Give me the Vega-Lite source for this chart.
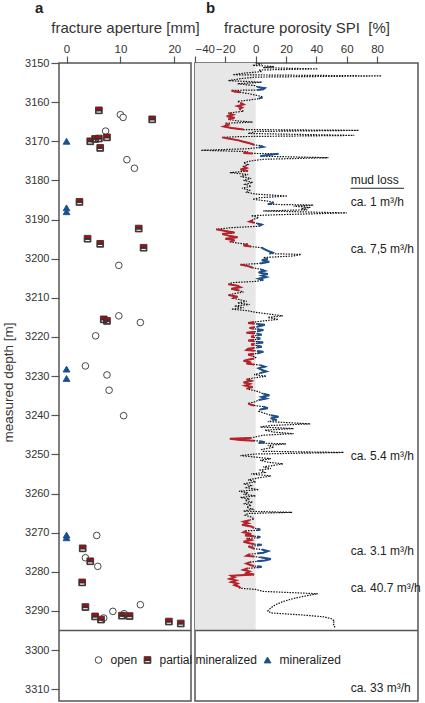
{
"$schema":"https://vega.github.io/schema/vega-lite/v6.json",
"padding":{"left":0,"top":0,"right":7,"bottom":3},
"spacing":4,
"bounds":"flush",
"config":{
 "font":"Liberation Sans",
 "view":{"stroke":"#555555","strokeWidth":1.5},
 "axis":{"grid":false,"domain":false,"labelOverlap":false,"tickCount":30,"labelFont":"Liberation Sans","labelFontSize":11.5,"labelColor":"#333333","titleFont":"Liberation Sans","titleFontSize":15,"titleFontWeight":"normal","titleColor":"#333333","tickColor":"#555555","tickSize":7,"tickWidth":1.2,"labelPadding":2,"titlePadding":8},
 "title":{"font":"Liberation Sans","fontSize":15,"fontWeight":"bold","color":"#222222","anchor":"start","frame":"group"}
},
"datasets":{
"frac":[
{"a":10.0,"d":3163.2,"type":"open"},{"a":10.5,"d":3163.9,"type":"open"},{"a":7.25,"d":3167.4,"type":"open"},{"a":11.2,"d":3174.7,"type":"open"},{"a":12.6,"d":3176.9,"type":"open"},{"a":9.7,"d":3201.7,"type":"open"},{"a":9.7,"d":3214.6,"type":"open"},{"a":13.7,"d":3216.3,"type":"open"},{"a":5.4,"d":3219.7,"type":"open"},{"a":3.5,"d":3227.4,"type":"open"},{"a":7.5,"d":3229.7,"type":"open"},{"a":7.9,"d":3233.6,"type":"open"},{"a":10.6,"d":3240.1,"type":"open"},{"a":5.6,"d":3270.7,"type":"open"},{"a":3.5,"d":3276.4,"type":"open"},{"a":5.8,"d":3278.6,"type":"open"},{"a":8.6,"d":3290.1,"type":"open"},{"a":10.7,"d":3290.7,"type":"open"},{"a":13.7,"d":3288.4,"type":"open"},{"a":6.9,"d":3291.8,"type":"open"},
{"a":6.0,"d":3162.1,"type":"partial mineralized"},{"a":15.9,"d":3164.4,"type":"partial mineralized"},{"a":4.4,"d":3170.0,"type":"partial mineralized"},{"a":5.3,"d":3169.4,"type":"partial mineralized"},{"a":6.0,"d":3169.3,"type":"partial mineralized"},{"a":7.5,"d":3169.0,"type":"partial mineralized"},{"a":6.25,"d":3171.7,"type":"partial mineralized"},{"a":2.4,"d":3185.5,"type":"partial mineralized"},{"a":13.4,"d":3192.3,"type":"partial mineralized"},{"a":3.9,"d":3194.9,"type":"partial mineralized"},{"a":6.25,"d":3196.2,"type":"partial mineralized"},{"a":14.3,"d":3197.2,"type":"partial mineralized"},{"a":6.9,"d":3215.5,"type":"partial mineralized"},{"a":7.5,"d":3215.9,"type":"partial mineralized"},{"a":3.0,"d":3274.0,"type":"partial mineralized"},{"a":4.4,"d":3277.3,"type":"partial mineralized"},{"a":2.9,"d":3282.7,"type":"partial mineralized"},{"a":3.5,"d":3289.0,"type":"partial mineralized"},{"a":5.3,"d":3291.4,"type":"partial mineralized"},{"a":6.4,"d":3292.2,"type":"partial mineralized"},{"a":10.3,"d":3291.2,"type":"partial mineralized"},{"a":11.7,"d":3291.3,"type":"partial mineralized"},{"a":19.0,"d":3292.7,"type":"partial mineralized"},{"a":21.2,"d":3293.2,"type":"partial mineralized"},
{"a":0,"d":3170.0,"type":"mineralized"},{"a":0,"d":3187.0,"type":"mineralized"},{"a":0,"d":3188.0,"type":"mineralized"},{"a":0,"d":3228.2,"type":"mineralized"},{"a":0,"d":3230.6,"type":"mineralized"},{"a":0,"d":3270.6,"type":"mineralized"},{"a":0,"d":3271.3,"type":"mineralized"}
],
"spi":[
{"d":3150.0,"v":0},{"d":3150.3,"v":4},{"d":3150.6,"v":-2},{"d":3150.9,"v":12},{"d":3151.2,"v":5},{"d":3151.5,"v":41},{"d":3151.8,"v":2},{"d":3152.2,"v":4},{"d":3152.6,"v":-8},{"d":3153.0,"v":-15},{"d":3153.3,"v":83},{"d":3153.6,"v":0},{"d":3154.0,"v":-10},{"d":3154.5,"v":-18},{"d":3154.9,"v":4},{"d":3155.3,"v":-12},{"d":3155.8,"v":0},
{"d":3156.1,"v":1,"c":"b","s":1},{"d":3156.4,"v":6,"c":"b","s":1},{"d":3156.7,"v":5,"c":"b","s":1},{"d":3156.9,"v":1,"c":"b","s":1},
{"d":3157.0,"v":-16,"c":"r","s":2},{"d":3157.3,"v":-14,"c":"r","s":2},{"d":3157.5,"v":-10,"c":"r","s":2},
{"d":3157.8,"v":-5},{"d":3158.2,"v":0},
{"d":3158.6,"v":4,"c":"b","s":3},{"d":3158.9,"v":4,"c":"b","s":3},{"d":3159.1,"v":2,"c":"b","s":3},
{"d":3159.5,"v":-5},{"d":3159.8,"v":-12},
{"d":3160.2,"v":-10,"c":"r","s":4},{"d":3160.6,"v":-8,"c":"r","s":4},{"d":3161.0,"v":-12,"c":"r","s":4},{"d":3161.4,"v":-9,"c":"r","s":4},{"d":3161.8,"v":-11,"c":"r","s":4},
{"d":3162.3,"v":-8},
{"d":3162.8,"v":-18,"c":"r","s":5},{"d":3163.2,"v":-15,"c":"r","s":5},{"d":3163.6,"v":-19,"c":"r","s":5},{"d":3164.0,"v":-14,"c":"r","s":5},{"d":3164.4,"v":-18,"c":"r","s":5},
{"d":3164.8,"v":-12},{"d":3165.1,"v":-2},
{"d":3165.4,"v":-20,"c":"r","s":6},{"d":3165.8,"v":-18,"c":"r","s":6},{"d":3166.2,"v":-21,"c":"r","s":6},{"d":3166.6,"v":-16,"c":"r","s":6},{"d":3167.0,"v":-8,"c":"r","s":6},
{"d":3167.2,"v":68},{"d":3167.5,"v":0},{"d":3168.0,"v":-5},{"d":3168.5,"v":65},{"d":3168.8,"v":-10},
{"d":3169.0,"v":-22,"c":"r","s":7},{"d":3169.3,"v":-18,"c":"r","s":7},{"d":3169.7,"v":-12,"c":"r","s":7},{"d":3170.1,"v":-8,"c":"r","s":7},{"d":3170.5,"v":-4,"c":"r","s":7},{"d":3170.9,"v":-1,"c":"r","s":7},
{"d":3171.1,"v":3,"c":"b","s":8},{"d":3171.4,"v":5,"c":"b","s":8},{"d":3171.6,"v":2,"c":"b","s":8},
{"d":3171.9,"v":-5},{"d":3172.3,"v":-36},{"d":3172.6,"v":-8},
{"d":3172.8,"v":-5,"c":"r","s":9},{"d":3173.0,"v":-8,"c":"r","s":9},{"d":3173.1,"v":-2,"c":"r","s":9},
{"d":3173.2,"v":15,"c":"b","s":10},{"d":3173.5,"v":8,"c":"b","s":10},{"d":3173.8,"v":3,"c":"b","s":10},
{"d":3174.2,"v":48},{"d":3174.6,"v":5},{"d":3175.0,"v":-3},{"d":3175.5,"v":-8},{"d":3176.0,"v":-5},
{"d":3176.4,"v":-8,"c":"r","s":11},{"d":3176.8,"v":-6,"c":"r","s":11},{"d":3177.2,"v":-10,"c":"r","s":11},{"d":3177.6,"v":-5,"c":"r","s":11},
{"d":3178.0,"v":-17},{"d":3178.5,"v":-5},{"d":3179.0,"v":-10},{"d":3179.5,"v":-3},{"d":3180.0,"v":-8},{"d":3180.5,"v":-2},{"d":3181.0,"v":-7},{"d":3181.5,"v":-3},{"d":3182.0,"v":-9},{"d":3182.5,"v":-4},{"d":3183.0,"v":-6},{"d":3183.5,"v":0},{"d":3184.0,"v":21},{"d":3184.4,"v":3},{"d":3184.8,"v":-2},{"d":3185.3,"v":8},
{"d":3185.6,"v":12,"c":"b","s":12},{"d":3185.9,"v":10,"c":"b","s":12},{"d":3186.1,"v":8,"c":"b","s":12},
{"d":3186.3,"v":38},{"d":3186.6,"v":25},{"d":3186.9,"v":36},{"d":3187.2,"v":30},{"d":3187.5,"v":34},{"d":3187.8,"v":5},{"d":3188.3,"v":60},{"d":3188.7,"v":20},{"d":3189.0,"v":-3},{"d":3189.5,"v":2},{"d":3190.0,"v":-2},
{"d":3190.2,"v":-2,"c":"r","s":13},{"d":3190.5,"v":-4,"c":"r","s":13},{"d":3190.8,"v":-1,"c":"r","s":13},
{"d":3191.0,"v":1,"c":"b","s":14},{"d":3191.3,"v":4,"c":"b","s":14},{"d":3191.7,"v":2,"c":"b","s":14},
{"d":3192.1,"v":-17},
{"d":3192.5,"v":-26,"c":"r","s":15},{"d":3192.9,"v":-20,"c":"r","s":15},{"d":3193.3,"v":-14,"c":"r","s":15},{"d":3193.7,"v":-22,"c":"r","s":15},{"d":3194.1,"v":-18,"c":"r","s":15},{"d":3194.5,"v":-12,"c":"r","s":15},{"d":3194.9,"v":-20,"c":"r","s":15},{"d":3195.3,"v":-14,"c":"r","s":15},{"d":3195.7,"v":-17,"c":"r","s":15},
{"d":3196.0,"v":-12},
{"d":3196.3,"v":-5,"c":"r","s":16},{"d":3196.6,"v":-8,"c":"r","s":16},{"d":3196.9,"v":-3,"c":"r","s":16},
{"d":3197.2,"v":4,"c":"b","s":17},{"d":3197.6,"v":6,"c":"b","s":17},{"d":3198.0,"v":8,"c":"b","s":17},{"d":3198.4,"v":11,"c":"b","s":17},{"d":3198.7,"v":9,"c":"b","s":17},
{"d":3198.9,"v":30},{"d":3199.3,"v":25},{"d":3199.7,"v":5},
{"d":3200.0,"v":8,"c":"b","s":18},{"d":3200.4,"v":4,"c":"b","s":18},{"d":3200.8,"v":9,"c":"b","s":18},{"d":3201.2,"v":3,"c":"b","s":18},
{"d":3201.5,"v":-10,"c":"r","s":19},{"d":3201.9,"v":-5,"c":"r","s":19},{"d":3202.3,"v":-2,"c":"r","s":19},
{"d":3202.7,"v":3,"c":"b","s":20},{"d":3203.1,"v":6,"c":"b","s":20},{"d":3203.5,"v":2,"c":"b","s":20},{"d":3203.9,"v":8,"c":"b","s":20},{"d":3204.3,"v":4,"c":"b","s":20},{"d":3204.7,"v":7,"c":"b","s":20},{"d":3205.1,"v":2,"c":"b","s":20},{"d":3205.5,"v":5,"c":"b","s":20},
{"d":3205.8,"v":0},{"d":3206.1,"v":-15},
{"d":3206.5,"v":-18,"c":"r","s":21},{"d":3206.9,"v":-12,"c":"r","s":21},{"d":3207.3,"v":-10,"c":"r","s":21},{"d":3207.7,"v":-16,"c":"r","s":21},{"d":3208.1,"v":-11,"c":"r","s":21},
{"d":3208.5,"v":-8},{"d":3208.9,"v":-14},
{"d":3209.3,"v":-18,"c":"r","s":22},{"d":3209.7,"v":-12,"c":"r","s":22},{"d":3210.1,"v":-15,"c":"r","s":22},
{"d":3210.5,"v":-10},{"d":3210.9,"v":-6},{"d":3211.3,"v":-12},{"d":3211.7,"v":-4},{"d":3212.1,"v":-14},{"d":3212.5,"v":-8},{"d":3212.9,"v":-16},{"d":3213.3,"v":-5},{"d":3213.7,"v":0},{"d":3214.2,"v":10},{"d":3214.6,"v":18},{"d":3215.0,"v":8},{"d":3215.5,"v":15},{"d":3215.9,"v":5},
{"d":3216.2,"v":-1,"c":"r","s":23},{"d":3216.4,"v":-5,"c":"r","s":23},{"d":3216.6,"v":-1,"c":"r","s":23},
{"d":3216.7,"v":1,"c":"b","s":24},{"d":3216.9,"v":6,"c":"b","s":24},{"d":3217.2,"v":3,"c":"b","s":24},{"d":3217.4,"v":1,"c":"b","s":24},
{"d":3217.5,"v":-1,"c":"r","s":25},{"d":3217.7,"v":-4,"c":"r","s":25},{"d":3217.9,"v":-1,"c":"r","s":25},
{"d":3218.0,"v":1,"c":"b","s":26},{"d":3218.2,"v":5,"c":"b","s":26},{"d":3218.5,"v":2,"c":"b","s":26},{"d":3218.6,"v":1,"c":"b","s":26},
{"d":3218.7,"v":-1,"c":"r","s":27},{"d":3218.9,"v":-6,"c":"r","s":27},{"d":3219.1,"v":-1,"c":"r","s":27},
{"d":3219.2,"v":1,"c":"b","s":28},{"d":3219.4,"v":4,"c":"b","s":28},{"d":3219.6,"v":1,"c":"b","s":28},
{"d":3219.7,"v":-1,"c":"r","s":29},{"d":3219.9,"v":-3,"c":"r","s":29},{"d":3220.1,"v":-1,"c":"r","s":29},
{"d":3220.2,"v":1,"c":"b","s":30},{"d":3220.4,"v":3,"c":"b","s":30},{"d":3220.6,"v":1,"c":"b","s":30},
{"d":3220.7,"v":-1,"c":"r","s":31},{"d":3220.9,"v":-5,"c":"r","s":31},{"d":3221.1,"v":-1,"c":"r","s":31},
{"d":3221.2,"v":1,"c":"b","s":32},{"d":3221.4,"v":5,"c":"b","s":32},{"d":3221.6,"v":1,"c":"b","s":32},
{"d":3221.7,"v":-1,"c":"r","s":33},{"d":3221.9,"v":-3,"c":"r","s":33},{"d":3222.1,"v":-1,"c":"r","s":33},
{"d":3222.2,"v":1,"c":"b","s":34},{"d":3222.5,"v":4,"c":"b","s":34},{"d":3222.7,"v":1,"c":"b","s":34},
{"d":3222.8,"v":-1,"c":"r","s":35},{"d":3223.0,"v":-5,"c":"r","s":35},{"d":3223.3,"v":-6,"c":"r","s":35},{"d":3223.5,"v":-1,"c":"r","s":35},
{"d":3223.6,"v":1,"c":"b","s":36},{"d":3223.8,"v":5,"c":"b","s":36},{"d":3224.0,"v":3,"c":"b","s":36},{"d":3224.2,"v":1,"c":"b","s":36},
{"d":3224.3,"v":-1,"c":"r","s":37},{"d":3224.5,"v":-5,"c":"r","s":37},{"d":3224.8,"v":-2,"c":"r","s":37},
{"d":3225.2,"v":0},
{"d":3225.5,"v":-1,"c":"r","s":38},{"d":3225.8,"v":-5,"c":"r","s":38},{"d":3226.1,"v":-8,"c":"r","s":38},{"d":3226.5,"v":-3,"c":"r","s":38},{"d":3226.8,"v":-6,"c":"r","s":38},{"d":3227.0,"v":-1,"c":"r","s":38},
{"d":3227.2,"v":3,"c":"b","s":39},{"d":3227.6,"v":6,"c":"b","s":39},{"d":3228.0,"v":2,"c":"b","s":39},{"d":3228.4,"v":4,"c":"b","s":39},{"d":3228.8,"v":7,"c":"b","s":39},{"d":3229.2,"v":3,"c":"b","s":39},
{"d":3229.6,"v":-1},{"d":3230.0,"v":7},{"d":3230.4,"v":0},
{"d":3230.8,"v":-6,"c":"r","s":40},{"d":3231.2,"v":-3,"c":"r","s":40},{"d":3231.6,"v":-8,"c":"r","s":40},{"d":3232.0,"v":-4,"c":"r","s":40},{"d":3232.4,"v":-7,"c":"r","s":40},{"d":3232.8,"v":-2,"c":"r","s":40},{"d":3233.2,"v":-6,"c":"r","s":40},
{"d":3233.6,"v":-2},{"d":3234.0,"v":2},
{"d":3234.5,"v":5,"c":"b","s":41},{"d":3234.9,"v":9,"c":"b","s":41},{"d":3235.3,"v":4,"c":"b","s":41},{"d":3235.7,"v":7,"c":"b","s":41},{"d":3236.1,"v":2,"c":"b","s":41},
{"d":3236.5,"v":0},
{"d":3237.0,"v":-5,"c":"r","s":42},{"d":3237.3,"v":-3,"c":"r","s":42},{"d":3237.5,"v":-1,"c":"r","s":42},
{"d":3237.8,"v":5,"c":"b","s":43},{"d":3238.2,"v":8,"c":"b","s":43},{"d":3238.5,"v":3,"c":"b","s":43},
{"d":3239.0,"v":2},{"d":3239.5,"v":6},
{"d":3240.0,"v":10,"c":"b","s":44},{"d":3240.4,"v":15,"c":"b","s":44},{"d":3240.8,"v":10,"c":"b","s":44},{"d":3241.2,"v":14,"c":"b","s":44},
{"d":3241.6,"v":8},{"d":3242.2,"v":36},{"d":3242.6,"v":10},{"d":3243.0,"v":3},{"d":3243.4,"v":25},{"d":3243.8,"v":6},{"d":3244.3,"v":12},{"d":3244.7,"v":25},{"d":3245.1,"v":5},{"d":3245.5,"v":0},
{"d":3245.8,"v":-3,"c":"r","s":45},{"d":3246.0,"v":-17,"c":"r","s":45},{"d":3246.3,"v":-10,"c":"r","s":45},{"d":3246.5,"v":-1,"c":"r","s":45},
{"d":3246.6,"v":3,"c":"b","s":46},{"d":3246.9,"v":6,"c":"b","s":46},{"d":3247.1,"v":2,"c":"b","s":46},
{"d":3247.3,"v":20},{"d":3247.7,"v":8},{"d":3248.2,"v":12},{"d":3248.7,"v":4},{"d":3249.2,"v":5},{"d":3249.5,"v":58},{"d":3249.9,"v":0},{"d":3250.3,"v":-10},{"d":3250.7,"v":0},{"d":3251.1,"v":10},{"d":3251.5,"v":3},{"d":3252.0,"v":8},{"d":3252.4,"v":18},{"d":3252.8,"v":12},{"d":3253.2,"v":5},{"d":3253.6,"v":10},{"d":3254.0,"v":3},{"d":3254.6,"v":6},{"d":3255.0,"v":-3},{"d":3255.5,"v":10},{"d":3256.0,"v":2},{"d":3256.5,"v":-5},{"d":3257.0,"v":0},{"d":3257.5,"v":-8},{"d":3258.0,"v":-3},{"d":3258.5,"v":-6},{"d":3259.0,"v":2},{"d":3259.4,"v":-11},{"d":3259.8,"v":-5},{"d":3260.2,"v":-8},{"d":3260.6,"v":0},{"d":3261.0,"v":-10},{"d":3261.4,"v":-4},{"d":3261.8,"v":-7},{"d":3262.2,"v":-2},{"d":3262.6,"v":-8},{"d":3263.0,"v":-3},{"d":3263.5,"v":-6},{"d":3264.0,"v":-2},{"d":3264.5,"v":-8},{"d":3264.8,"v":24},{"d":3265.1,"v":-5},{"d":3265.5,"v":-7},{"d":3266.0,"v":-3},{"d":3266.5,"v":-1},
{"d":3266.8,"v":-4,"c":"r","s":47},{"d":3267.2,"v":-8,"c":"r","s":47},{"d":3267.6,"v":-5,"c":"r","s":47},{"d":3268.0,"v":-9,"c":"r","s":47},{"d":3268.4,"v":-3,"c":"r","s":47},{"d":3268.8,"v":-1,"c":"r","s":47},
{"d":3269.0,"v":1,"c":"b","s":48},{"d":3269.2,"v":3,"c":"b","s":48},{"d":3269.4,"v":1,"c":"b","s":48},
{"d":3269.5,"v":-6,"c":"r","s":49},{"d":3269.9,"v":-8,"c":"r","s":49},{"d":3270.3,"v":-3,"c":"r","s":49},{"d":3270.7,"v":-7,"c":"r","s":49},{"d":3270.9,"v":-1,"c":"r","s":49},
{"d":3271.0,"v":1,"c":"b","s":50},{"d":3271.1,"v":3,"c":"b","s":50},{"d":3271.3,"v":1,"c":"b","s":50},
{"d":3271.5,"v":-6,"c":"r","s":51},{"d":3271.9,"v":-3,"c":"r","s":51},{"d":3272.3,"v":-8,"c":"r","s":51},{"d":3272.7,"v":-4,"c":"r","s":51},{"d":3272.9,"v":-1,"c":"r","s":51},
{"d":3273.0,"v":1,"c":"b","s":52},{"d":3273.1,"v":4,"c":"b","s":52},{"d":3273.3,"v":1,"c":"b","s":52},
{"d":3273.5,"v":-5,"c":"r","s":53},{"d":3273.9,"v":-2,"c":"r","s":53},{"d":3274.1,"v":-1,"c":"r","s":53},
{"d":3274.3,"v":4,"c":"b","s":54},{"d":3274.7,"v":8,"c":"b","s":54},{"d":3275.1,"v":5,"c":"b","s":54},{"d":3275.3,"v":1,"c":"b","s":54},
{"d":3275.5,"v":-4,"c":"r","s":55},{"d":3275.9,"v":-6,"c":"r","s":55},{"d":3276.1,"v":-1,"c":"r","s":55},
{"d":3276.3,"v":3,"c":"b","s":56},{"d":3276.7,"v":10,"c":"b","s":56},{"d":3277.1,"v":6,"c":"b","s":56},{"d":3277.3,"v":1,"c":"b","s":56},
{"d":3277.5,"v":-3,"c":"r","s":57},{"d":3277.9,"v":-6,"c":"r","s":57},{"d":3278.3,"v":-3,"c":"r","s":57},{"d":3278.5,"v":-1,"c":"r","s":57},
{"d":3278.6,"v":1,"c":"b","s":58},{"d":3278.7,"v":4,"c":"b","s":58},{"d":3278.9,"v":1,"c":"b","s":58},
{"d":3279.1,"v":-5,"c":"r","s":59},{"d":3279.5,"v":-8,"c":"r","s":59},{"d":3279.9,"v":-4,"c":"r","s":59},{"d":3280.3,"v":-6,"c":"r","s":59},{"d":3280.7,"v":-1,"c":"r","s":59},{"d":3281.0,"v":-16,"c":"r","s":59},{"d":3281.4,"v":-14,"c":"r","s":59},{"d":3281.8,"v":-17,"c":"r","s":59},{"d":3282.2,"v":-13,"c":"r","s":59},{"d":3282.6,"v":-16,"c":"r","s":59},{"d":3283.0,"v":-12,"c":"r","s":59},{"d":3283.4,"v":-14,"c":"r","s":59},{"d":3283.8,"v":-11,"c":"r","s":59},{"d":3284.2,"v":-10,"c":"r","s":59},
{"d":3284.5,"v":0},{"d":3285.0,"v":5},{"d":3285.6,"v":41},{"d":3286.0,"v":35},{"d":3286.8,"v":25},{"d":3287.6,"v":18},{"d":3288.4,"v":13},{"d":3289.2,"v":10},{"d":3290.0,"v":8},{"d":3290.5,"v":10},{"d":3291.0,"v":30},{"d":3291.5,"v":45},{"d":3292.0,"v":50},{"d":3292.6,"v":52},{"d":3293.2,"v":51},{"d":3293.8,"v":52},{"d":3294.5,"v":52}
],
"mud":[
{"d":3180.0,"t":"mud loss"},{"d":3185.4,"t":"ca. 1 m³/h"},{"d":3197.5,"t":"ca. 7,5 m³/h"},{"d":3250.3,"t":"ca. 5.4 m³/h"},{"d":3274.6,"t":"ca. 3.1 m³/h"},{"d":3284.2,"t":"ca. 40.7 m³/h"},{"d":3309.8,"t":"ca. 33 m³/h"}
]
},
"hconcat":[
{
 "width":132,"height":638,
 "title":{"text":"a","dx":-24,"offset":4},
 "layer":[
  {"data":{"name":"frac"},
   "mark":{"type":"point","filled":true,"strokeWidth":0.9,"opacity":1},
   "encoding":{
    "x":{"field":"a","type":"quantitative","scale":{"domain":[-1.4,23.1],"nice":false,"zero":false},"axis":{"orient":"top","values":[0,10,20],"tickCount":30,"title":"fracture aperture [mm]"}},
    "y":{"field":"d","type":"quantitative","scale":{"domain":[3150,3313],"nice":false,"zero":false,"reverse":true},"axis":{"values":[3150,3160,3170,3180,3190,3200,3210,3220,3230,3240,3250,3260,3270,3280,3290,3300,3310],"tickCount":30,"format":"d","title":"measured depth [m]","titleFontSize":13.5,"titlePadding":9,"tickSize":8,"labelFontSize":11}},
    "shape":{"field":"type","type":"nominal","scale":{"domain":["open","partial mineralized","mineralized"],"range":["circle","M-1,-1L1,-1L1,0L-1,0Z M-1,0L1,0L1,1L-1,1Z M-0.8,0.2L-0.8,0.8L0.8,0.8L0.8,0.2Z","triangle-up"]},
      "legend":{"orient":"none","legendX":33.5,"legendY":591,"direction":"horizontal","title":null,"labelFontSize":12,"labelFont":"Liberation Sans","labelColor":"#222222","labelOffset":6,"columnPadding":4,"symbolStrokeWidth":0.9,"padding":0}},
    "fill":{"field":"type","type":"nominal","scale":{"domain":["open","partial mineralized","mineralized"],"range":["#ffffff","#a01010","#1b4f8a"]},
      "legend":{"orient":"none","legendX":33.5,"legendY":591,"direction":"horizontal","title":null,"labelFontSize":12,"labelFont":"Liberation Sans","labelColor":"#222222","labelOffset":6,"columnPadding":4,"symbolStrokeWidth":0.9,"padding":0}},
    "stroke":{"field":"type","type":"nominal","scale":{"domain":["open","partial mineralized","mineralized"],"range":["#333333","#333333","#1b4f8a"]},
      "legend":{"orient":"none","legendX":33.5,"legendY":591,"direction":"horizontal","title":null,"labelFontSize":12,"labelFont":"Liberation Sans","labelColor":"#222222","labelOffset":6,"columnPadding":4,"symbolStrokeWidth":0.9,"padding":0}},
    "size":{"field":"type","type":"nominal","scale":{"domain":["open","partial mineralized","mineralized"],"range":[44,46,62]},
      "legend":{"orient":"none","legendX":33.5,"legendY":591,"direction":"horizontal","title":null,"labelFontSize":12,"labelFont":"Liberation Sans","labelColor":"#222222","labelOffset":6,"columnPadding":4,"symbolStrokeWidth":0.9,"padding":0}}
   }},
  {"data":{"values":[{}]},"mark":{"type":"rule","color":"#555555","strokeWidth":1.5},"encoding":{"y":{"datum":3295}}}
 ]
},
{
 "width":223,"height":638,
 "title":{"text":"b","dx":11,"offset":4},
 "layer":[
  {"data":{"values":[{}]},"mark":{"type":"rect","color":"#e7e7e7"},
   "encoding":{
    "x":{"datum":-40,"type":"quantitative","scale":{"domain":[-40,107],"nice":false,"zero":false},"axis":{"orient":"top","values":[-40,-20,0,20,40,60,80],"tickCount":30,"title":"fracture porosity SPI \u00a0[%]"}},
    "x2":{"datum":0},
    "y":{"datum":3150,"type":"quantitative","scale":{"domain":[3150,3313],"nice":false,"zero":false,"reverse":true},"axis":null},
    "y2":{"datum":3295}
   }},
  {"data":{"name":"spi"},"mark":{"type":"line","strokeDash":[1.5,1.2],"strokeWidth":1.2,"color":"#111111"},
   "encoding":{"x":{"field":"v","type":"quantitative"},"y":{"field":"d","type":"quantitative"},"order":{"field":"d","type":"quantitative"}}},
  {"data":{"name":"spi"},"transform":[{"filter":"datum.s > 0"}],"mark":{"type":"line","strokeWidth":2},
   "encoding":{"x":{"field":"v","type":"quantitative"},"y":{"field":"d","type":"quantitative"},"order":{"field":"d","type":"quantitative"},"detail":{"field":"s","type":"nominal"},
    "color":{"field":"c","type":"nominal","scale":{"domain":["r","b"],"range":["#b8202a","#1d4f8c"]},"legend":null}}},
  {"data":{"values":[{}]},"mark":{"type":"rule","color":"#555555","strokeWidth":1.5},"encoding":{"y":{"datum":3295}}},
  {"data":{"name":"mud"},"mark":{"type":"text","align":"left","baseline":"middle","fontSize":12,"font":"Liberation Sans","color":"#222222"},
   "encoding":{"x":{"datum":62.6},"y":{"field":"d","type":"quantitative"},"text":{"field":"t"}}},
  {"data":{"values":[{}]},"mark":{"type":"rule","color":"#222222","strokeWidth":1},"encoding":{"x":{"datum":62.6},"x2":{"datum":97.8},"y":{"datum":3182}}}
 ]
}
]
}
